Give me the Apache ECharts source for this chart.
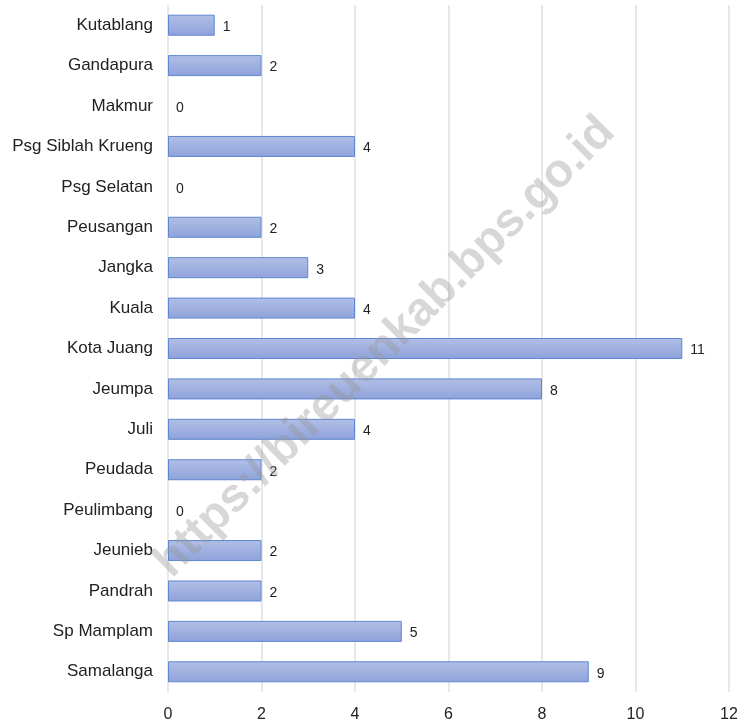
<!DOCTYPE html>
<html>
<head>
<meta charset="utf-8">
<script src="https://cdn.jsdelivr.net/npm/echarts@6/dist/echarts.min.js"></script>
<style>
  html, body { margin: 0; padding: 0; background: #fff; }
  #chart { width: 743px; height: 724px; }
</style>
</head>
<body>
<div id="chart"></div>
<script>
// kecamatan, dari atas ke bawah
const categories = [
  "Kutablang", "Gandapura", "Makmur", "Psg Siblah Krueng", "Psg Selatan",
  "Peusangan", "Jangka", "Kuala", "Kota Juang", "Jeumpa", "Juli",
  "Peudada", "Peulimbang", "Jeunieb", "Pandrah", "Sp Mamplam", "Samalanga"
];
const values = [1, 2, 0, 4, 0, 2, 3, 4, 11, 8, 4, 2, 0, 2, 2, 5, 9];
const xTicks = [0, 2, 4, 6, 8, 10, 12];
const watermark = "https://bireuenkab.bps.go.id";

const font = "Liberation Sans, Arial, sans-serif";
let myChart = echarts.init(document.getElementById("chart"));
myChart.setOption({
  animation: false,
  grid: { left: 168, right: 14, top: 5, bottom: 32 },
  xAxis: {
    type: "value",
    min: xTicks[0],
    max: xTicks[xTicks.length - 1],
    interval: 2,
    axisLine: { show: false },
    axisTick: { show: false },
    axisLabel: { color: "#222", fontSize: 16, fontFamily: font, margin: 15 },
    splitLine: { show: true, lineStyle: { color: "#e0e0e0", width: 1.5 } },
  },
  yAxis: {
    type: "category",
    data: categories,
    inverse: true,
    axisLine: { show: false },
    axisTick: { show: false },
    axisLabel: { color: "#222", fontSize: 17, fontFamily: font, margin: 15 },
  },
  series: [
    {
      type: "bar",
      // nilai 0 tanpa garis tepi
      data: values.map((v) =>
        v === 0 ? { value: v, itemStyle: { borderWidth: 0 } } : v
      ),
      barWidth: 21,
      itemStyle: {
        color: new echarts.graphic.LinearGradient(0, 0, 0, 1, [
          { offset: 0, color: "#b2bfe6" },
          { offset: 1, color: "#8ea2da" },
        ]),
        borderColor: "#5f86d2",
        borderWidth: 1,
      },
      label: {
        show: true,
        position: "right",
        distance: 8,
        color: "#222",
        fontSize: 14,
        fontFamily: font,
        offset: [0, 2],
      },
    },
  ],
  graphic: [
    {
      type: "text",
      x: 385,
      y: 347,
      rotation: Math.PI / 4,
      z: 100,
      style: {
        text: watermark,
        font: "bold 47px " + font,
        fill: "rgba(150,150,150,0.38)",
        align: "center",
        verticalAlign: "middle",
      },
    },
  ],
});
</script>
</body>
</html>
